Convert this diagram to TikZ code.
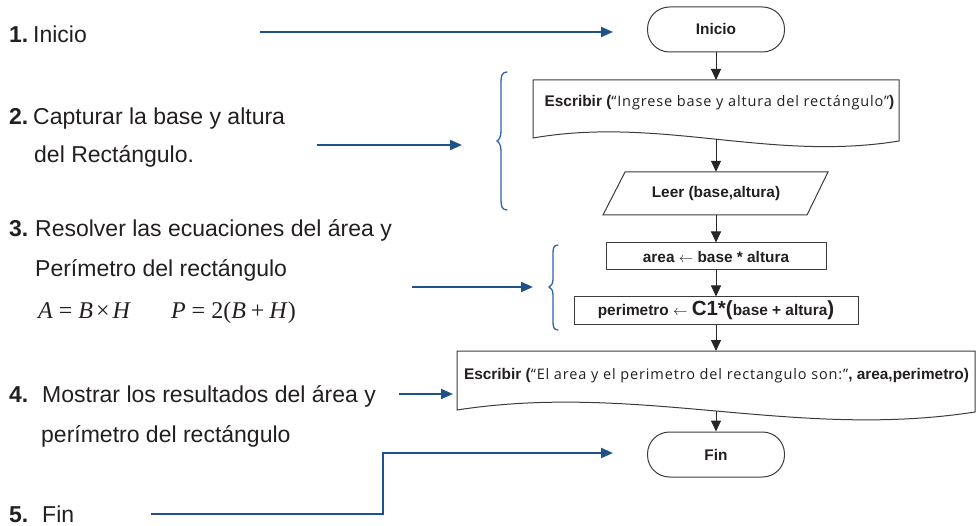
\documentclass[tikz,border=0pt]{standalone}
\usepackage{fontspec}
\setmainfont{Liberation Sans}
\newfontfamily\tnr{Liberation Serif}
\newfontfamily\qfont[LetterSpace=6]{Open Sans}
\usetikzlibrary{arrows.meta}
\definecolor{ink}{HTML}{231F20}
\definecolor{lineg}{HTML}{3C3C3C}
\definecolor{arrblue}{HTML}{1F5289}
\definecolor{braceblue}{HTML}{3262AE}
\tikzset{
  lbl/.style={anchor=base west, inner sep=0pt, font=\fontsize{23}{27}\selectfont, text=ink},
  term/.style={draw=lineg, line width=1pt, rounded corners=22pt, minimum width=137pt, minimum height=45pt, inner sep=0pt, font=\fontsize{15.4}{18}\selectfont\bfseries, text=ink},
  procbox/.style={draw=lineg, line width=1pt, minimum height=27pt, inner sep=0pt, font=\fontsize{15.4}{18}\selectfont\bfseries, text=ink},
  shapeline/.style={draw=lineg, line width=1pt, line join=miter},
  ftext/.style={font=\fontsize{15.4}{18}\selectfont\bfseries, text=ink, inner sep=0pt},
  flow/.style={draw=black!85, line width=1pt, -{Triangle[width=10pt,length=11pt]}},
  bluearrow/.style={draw=arrblue, line width=2pt, -{Triangle[width=10pt,length=12pt]}},
  bracestyle/.style={draw=braceblue, line width=1.3pt, line cap=round}
}
\newcommand{\qtxt}[1]{{\fontsize{14.5}{18}\selectfont\qfont\mdseries #1}}
\newcommand{\bigsym}[1]{{\fontsize{20.5}{22}\selectfont #1}}
\begin{document}
\begin{tikzpicture}[x=1pt, y=-1pt]
\useasboundingbox (0,0) rectangle (976,526);

% ---------- left column texts ----------
\node[lbl] (t1) at (9,43) {\makebox[24pt][l]{\bfseries 1.}Inicio};
\node[lbl] (t2) at (9,125) {\makebox[24pt][l]{\bfseries 2.}Capturar la base y altura};
\node[lbl] (t2b) at (34,163) {del Rectángulo.};
\node[lbl] (t3) at (9,237) {\makebox[26pt][l]{\bfseries 3.}Resolver las ecuaciones del área y};
\node[lbl] (t3b) at (35,277) {Perímetro del rectángulo};
\node[lbl, font=\fontsize{24}{28}\selectfont] (t3c) at (38,318) {\tnr\textit{A}\hspace{6pt}=\hspace{6pt}\textit{B}\hspace{3pt}×\hspace{3pt}\textit{H}\hspace{40pt}\textit{P}\hspace{6pt}=\hspace{6pt}2(\textit{B}\hspace{5pt}+\hspace{5pt}\textit{H})};
\node[lbl] (t4) at (9,402) {\makebox[33pt][l]{\bfseries 4.}Mostrar los resultados del área y};
\node[lbl] (t4b) at (41,442) {perímetro del rectángulo};
\node[lbl] (t5) at (9,522) {\makebox[33pt][l]{\bfseries 5.}Fin};

% ---------- flowchart ----------
\node[term] (inicio) at (716,29.5) {Inicio};

\draw[shapeline] (533,80) -- (899,80) -- (899,141) .. controls (770,162) and (660,116) .. (533,138) -- cycle;
\node[ftext] (doc1) at (719.5,103) {Escribir (\qtxt{“Ingrese base y altura del rectángulo”})};
\coordinate (d1n) at (716,80);
\coordinate (d1s) at (716,139);

\draw[shapeline] (603,215) -- (625,172) -- (828,172) -- (807,215) -- cycle;
\node[ftext, minimum height=43pt] (leer) at (716,193.5) {Leer (base,altura)};

\node[procbox, minimum width=220pt] (area) at (716,256.5) {area $\leftarrow$ base * altura};
\node[procbox, minimum width=284pt] (perim) at (716,310.5) {perimetro $\leftarrow$ \bigsym{C1*(}base + altura\bigsym{)}};

\draw[shapeline] (457,351) -- (975,351) -- (975,412) .. controls (794,440) and (638,382) .. (457,410) -- cycle;
\node[ftext] (doc2) at (716.5,376) {Escribir (\qtxt{“El area y el perimetro del rectangulo son:”}, area,perimetro)};
\coordinate (d2n) at (716,351);
\coordinate (d2s) at (716,411);

\node[term] (fin) at (716,454.5) {Fin};

\draw[flow] (inicio.south) -- (d1n);
\draw[flow] (d1s) -- (leer.north);
\draw[flow] (leer.south) -- (area.north);
\draw[flow] (area.south) -- (perim.north);
\draw[flow] (perim.south) -- (d2n);
\draw[flow] (d2s) -- (fin.north);

% ---------- blue arrows ----------
\coordinate (b1s) at (260,32);  \coordinate (b1e) at (613,32);
\coordinate (b2s) at (317,145); \coordinate (b2e) at (462,145);
\coordinate (b3s) at (412,287); \coordinate (b3e) at (533,287);
\coordinate (b4s) at (399,394); \coordinate (b4e) at (453,394);
\coordinate (b5s) at (151,514); \coordinate (b5k) at (383,453); \coordinate (b5e) at (613,453);
\draw[bluearrow] (b1s) -- (b1e);
\draw[bluearrow] (b2s) -- (b2e);
\draw[bluearrow] (b3s) -- (b3e);
\draw[bluearrow] (b4s) -- (b4e);
\draw[bluearrow] (b5s) -| (b5k) -- (b5e);

% ---------- braces ----------
\draw[bracestyle] (507,72) .. controls (502,72) and (501,76) .. (501,82) -- (501,131)
  .. controls (501,137) and (499,140) .. (497,141)
  .. controls (499,142) and (501,145) .. (501,151) -- (501,200)
  .. controls (501,206) and (502,210) .. (507,210);
\draw[bracestyle] (558,245) .. controls (554,245) and (553,248) .. (553,253) -- (553,279)
  .. controls (553,284) and (551,286) .. (549,287)
  .. controls (551,288) and (553,290) .. (553,295) -- (553,322)
  .. controls (553,327) and (554,330) .. (558,330);
\end{tikzpicture}
\end{document}
